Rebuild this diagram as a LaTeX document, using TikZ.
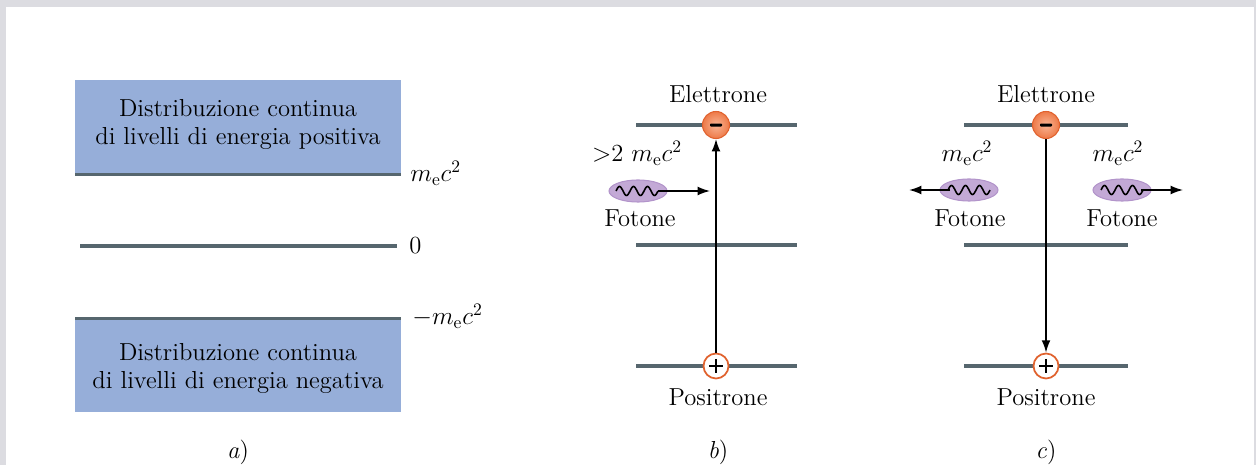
\documentclass[tikz,border=0pt]{standalone}
\usetikzlibrary{arrows.meta,shapes.geometric}
\definecolor{frameg}{HTML}{DCDCE1}
\definecolor{bandblue}{HTML}{96AED9}
\definecolor{levelc}{HTML}{56666E}
\definecolor{eorange}{HTML}{EE7A48}
\definecolor{eorangeL}{HTML}{F8B595}
\definecolor{eborder}{HTML}{E0622E}
\definecolor{phfill}{HTML}{C3A9D6}
\definecolor{phborder}{HTML}{B294CA}
\tikzset{
  txt/.style={font=\fontsize{14}{17}\selectfont, inner sep=0pt, anchor=base},
  level/.style={draw=levelc, line width=1.9pt},
  band/.style={fill=bandblue, draw=none},
  electron/.style={circle, minimum size=27*0.02cm, inner sep=0pt, shading=radial, inner color=eorangeL, outer color=eorange, draw=eborder, line width=0.6pt},
  positron/.style={circle, minimum size=25*0.02cm, inner sep=0pt, fill=white, draw=eborder, line width=1pt},
  photon/.style={ellipse, minimum width=58*0.02cm, minimum height=22*0.02cm, inner sep=0pt, fill=phfill, draw=phborder, line width=0.6pt},
  conn/.style={line width=0.85pt, -{Latex[length=7pt,width=5pt]}},
  wave/.style={line width=0.9pt},
}
\begin{document}
\begin{tikzpicture}[x=0.02cm,y=-0.02cm]
\useasboundingbox (0,0) rectangle (1256,465);
% frame
\fill[frameg] (0,0) rectangle (1256,7);
\fill[frameg] (0,0) rectangle (6,465);
\fill[frameg] (1254,0) rectangle (1256,465);

% ---------- panel a ----------
\fill[band] (75,80) rectangle (401,175);
\fill[band] (75,318) rectangle (401,412);
\coordinate (a1l) at (75,174.5); \coordinate (a1r) at (401,174.5);
\coordinate (a0l) at (80,246); \coordinate (a0r) at (397,246);
\coordinate (a2l) at (75,318.5); \coordinate (a2r) at (401,318.5);
\draw[level] (a1l) -- (a1r);
\draw[level] (a0l) -- (a0r);
\draw[level] (a2l) -- (a2r);
\node[txt] (t1) at (238,117) {Distribuzione continua};
\node[txt] (t2) at (238,145) {di livelli di energia positiva};
\node[txt] (t3) at (238,360) {Distribuzione continua};
\node[txt] (t4) at (238,388) {di livelli di energia negativa};
\node[txt, anchor=base west] (lmc) at (410,182) {$m_{\mathrm{e}}c^2$};
\node[txt, anchor=base west] (lz) at (409,254) {0};
\node[txt, anchor=base west] (lnmc) at (412,325) {$-m_{\mathrm{e}}c^2$};
\node[txt] (la) at (238,458) {\textit{a})};

% ---------- panel b ----------
\draw[level] (636,125) -- (797,125);
\draw[level] (636,245) -- (797,245);
\draw[level] (636,366) -- (797,366);
\node[electron] (eb) at (716,125) {};
\fill[black, rounded corners=0.5pt] (710,123.6) rectangle (722,126.6);
\node[positron] (pb) at (716,366) {};
\draw[line width=1.5pt] (709,366) -- (723,366) (716,359) -- (716,373);
\draw[conn] (pb) -- (eb);
\node[txt] (elb) at (718,103) {Elettrone};
\node[txt] (plb) at (718,405) {Positrone};
\node[txt] (enb) at (637,162) {$>$2 $m_{\mathrm{e}}c^2$};
\node[photon] (phb) at (638,191) {};
\draw[wave] plot[domain=0:3, samples=61] ({616+\x*14}, {191-4.5*sin(\x*360)});
\coordinate (phbt) at (710,191);
\draw[conn] (658,191) -- (phbt);
\node[txt] (fb) at (640,227) {Fotone};
\node[txt] (lb) at (718,458) {\textit{b})};

% ---------- panel c ----------
\draw[level] (964,125) -- (1128,125);
\draw[level] (964,245) -- (1128,245);
\draw[level] (964,366) -- (1128,366);
\node[electron] (ec) at (1046,125) {};
\fill[black, rounded corners=0.5pt] (1040,123.6) rectangle (1052,126.6);
\node[positron] (pc) at (1046,366) {};
\draw[line width=1.5pt] (1039,366) -- (1053,366) (1046,359) -- (1046,373);
\draw[conn] (ec) -- (pc);
\node[txt] (elc) at (1046,103) {Elettrone};
\node[txt] (plc) at (1046,405) {Positrone};

\node[photon] (phl) at (969,190) {};
\draw[wave] plot[domain=0:3, samples=61] ({948+\x*14}, {190-4.5*sin(\x*360)});
\coordinate (phlt) at (909,190);
\draw[conn] (950,190) -- (phlt);
\node[txt] (enl) at (967,162) {$m_{\mathrm{e}}c^2$};
\node[txt] (fl) at (970,227) {Fotone};

\node[photon] (phr) at (1122,190) {};
\draw[wave] plot[domain=0:3, samples=61] ({1101+\x*14}, {190-4.5*sin(\x*360)});
\coordinate (phrt) at (1183,190);
\draw[conn] (1141,190) -- (phrt);
\node[txt] (enr) at (1118,162) {$m_{\mathrm{e}}c^2$};
\node[txt] (fr) at (1122,227) {Fotone};
\node[txt] (lc) at (1046,458) {\textit{c})};
\end{tikzpicture}
\end{document}
